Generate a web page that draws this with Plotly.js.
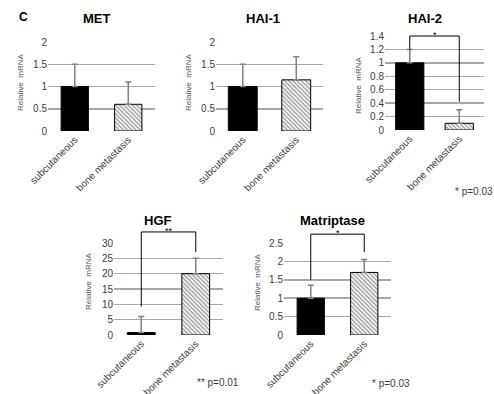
<!DOCTYPE html>
<html><head><meta charset="utf-8">
<script src="https://cdn.plot.ly/plotly-3.0.1.min.js"></script>
<style>html,body{margin:0;padding:0;background:#fff}#chart{width:494px;height:394px}</style>
</head><body><div id="chart"></div>
<script>
const categories = ['subcutaneous', 'bone metastasis'];
const genes = ['MET', 'HAI-1', 'HAI-2', 'HGF', 'Matriptase'];
const metValues = [1.0, 0.6],  metErrors = [0.5, 0.5];
const hai1Values = [1.0, 1.15], hai1Errors = [0.5, 0.52];
const hai2Values = [1.0, 0.1], hai2Errors = [0.2, 0.2];
const hgfValues = [0.8, 20],   hgfErrors = [5.2, 5.0];
const matValues = [1.0, 1.7],  matErrors = [0.35, 0.35];
const yMax = [2, 2, 1.4, 30, 2.5];
const yDtick = [0.5, 0.5, 0.2, 5, 0.5];
// significance brackets
const sigGene = [2, 3, 4];
const sigLevel = [1.4, 33.6, 2.74];
const sigLeftEnd = [1.2, 9.3, 1.5];
const sigRightEnd = [0.42, 27, 2.25];
const sigStars = ['*', '**', '*'];
const pLabels = ['* p=0.03', '** p=0.01', '* p=0.03'];

const allValues = [metValues, hai1Values, hai2Values, hgfValues, matValues];
const allErrors = [metErrors, hai1Errors, hai2Errors, hgfErrors, matErrors];

const W = 494, H = 394;
const px = v => v / W, py = v => 1 - v / H;
// panel boxes in pixels: [left, right, top, bottom]
const boxes = [[48,155,42,131],[216,323,42,131],[385,484,36,130],[114,223,243,335],[284,391,243,335]];
const barWidths = [0.51, 0.54, 0.57, 0.51, 0.51];
const titlePos = [[97,18],[263,18],[425,18],[158,220],[332,220]];
const ytitlePos = [[20,82],[188,82],[358,85],[88,281],[257,282]];
const pPos = [[453,191],[195,382],[370,383]];

const FONT = 'Liberation Sans, Arial, sans-serif';
const data = [];
const layout = {
  width: W, height: H, margin: {l:0,r:0,t:0,b:0},
  paper_bgcolor: '#fff', plot_bgcolor: '#fff', showlegend: false,
  font: {family: FONT, size: 10, color: '#404040'},
  shapes: [], annotations: []
};

genes.forEach((g, i) => {
  const n = i + 1, xs = 'x' + (n === 1 ? '' : n), ys = 'y' + (n === 1 ? '' : n);
  const b = boxes[i];
  data.push({
    type: 'bar', x: categories, y: allValues[i], xaxis: xs, yaxis: ys, width: barWidths[i],
    marker: {
      color: ['#000000', '#ffffff'],
      line: {color: '#000', width: 1},
      pattern: {shape: ['', '\\'], size: 3, solidity: 0.5, fgcolor: '#222', bgcolor: '#fff', fillmode: 'overlay'}
    },
    error_y: {type: 'data', symmetric: false, array: allErrors[i], arrayminus: [0, 0],
              color: '#808080', thickness: 1.5, width: 3},
    hoverinfo: 'none'
  });
  layout['xaxis' + (n === 1 ? '' : n)] = {
    domain: [px(b[0]), px(b[1])], anchor: ys, type: 'category',
    showgrid: false, zeroline: false, showline: false, ticks: '',
    tickangle: -45, tickfont: {size: 10, color: '#404040', family: FONT}, fixedrange: true
  };
  layout['yaxis' + (n === 1 ? '' : n)] = {
    domain: [py(b[3]), py(b[2])], anchor: xs, range: [0, yMax[i]], dtick: yDtick[i],
    showgrid: true, gridcolor: '#a8a8a8', gridwidth: 1.5, zeroline: false, showline: false,
    ticks: '', tickfont: {size: 10, color: '#404040', family: FONT}, fixedrange: true
  };
  layout.annotations.push({
    text: '<b>' + g + '</b>', xref: 'paper', yref: 'paper', x: px(titlePos[i][0]), y: py(titlePos[i][1]),
    showarrow: false, xanchor: 'center', yanchor: 'middle', font: {size: 13, color: '#000', family: FONT}
  });
  layout.annotations.push({
    text: 'Relative  mRNA', xref: 'paper', yref: 'paper', x: px(ytitlePos[i][0]), y: py(ytitlePos[i][1]),
    showarrow: false, textangle: -90, xanchor: 'center', yanchor: 'middle',
    font: {size: 8, color: '#595959', family: FONT}
  });
});

sigGene.forEach((gi, k) => {
  const n = gi + 1;
  const xr = 'x' + n + ' domain', yr = 'y' + n + ' domain';
  const m = yMax[gi];
  const lvl = sigLevel[k] / m, l = sigLeftEnd[k] / m, r = sigRightEnd[k] / m;
  const line = {color: '#000', width: 1};
  layout.shapes.push({type: 'line', xref: xr, yref: yr, x0: 0.25, x1: 0.75, y0: lvl, y1: lvl, line});
  layout.shapes.push({type: 'line', xref: xr, yref: yr, x0: 0.25, x1: 0.25, y0: lvl, y1: l, line});
  layout.shapes.push({type: 'line', xref: xr, yref: yr, x0: 0.75, x1: 0.75, y0: lvl, y1: r, line});
  layout.annotations.push({
    text: sigStars[k], xref: xr, yref: yr, x: 0.5, y: lvl, showarrow: false,
    xanchor: 'center', yanchor: 'bottom', yshift: -6, font: {size: 9, color: '#000', family: FONT}
  });
  layout.annotations.push({
    text: pLabels[k], xref: 'paper', yref: 'paper', x: px(pPos[k][0]), y: py(pPos[k][1]),
    showarrow: false, xanchor: 'left', yanchor: 'middle', font: {size: 10, color: '#404040', family: FONT}
  });
});

layout.annotations.push({
  text: '<b>C</b>', xref: 'paper', yref: 'paper', x: px(23), y: py(17), showarrow: false,
  xanchor: 'center', yanchor: 'middle', font: {size: 12, color: '#000', family: FONT}
});

Plotly.newPlot('chart', data, layout, {displayModeBar: false, staticPlot: true});
</script>
</body></html>
